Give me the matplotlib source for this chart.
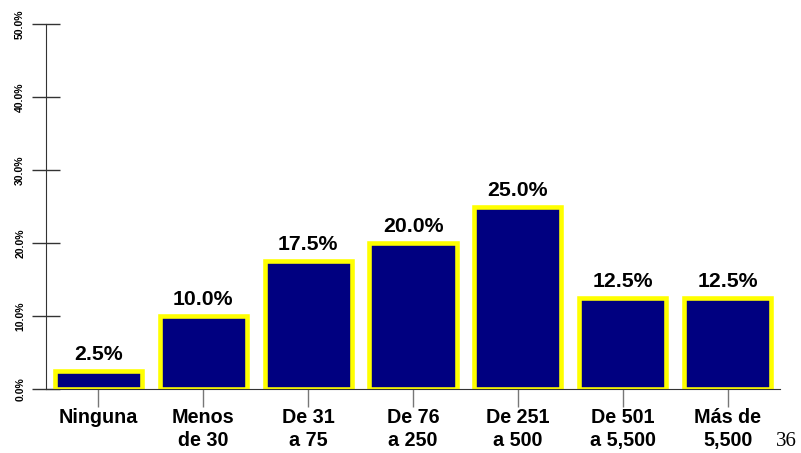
import numpy as np
from matplotlib import pyplot as plt

# categories and values (percent)
categories = ["Ninguna", "Menos\nde 30", "De 31\na 75", "De 76\na 250",
              "De 251\na 500", "De 501\na 5,500", "Más de\n5,500"]
values = [2.5, 10.0, 17.5, 20.0, 25.0, 12.5, 12.5]
y_ticks = [0, 10, 20, 30, 40, 50]
y_tick_labels = ["0.0%", "10.0%", "20.0%", "30.0%", "40.0%", "50.0%"]
page_number = "36"

plt.rcParams["font.family"] = ["Liberation Sans", "DejaVu Sans"]

fig = plt.figure(figsize=(8.01, 4.53), dpi=100)
ax = fig.add_axes([46 / 801, 1 - 389 / 453, (780 - 46) / 801, (389 - 24) / 453])

x = np.arange(len(categories))
bars = ax.bar(x, values, width=0.83, color="#000080", edgecolor="#ffff00",
              linewidth=3.3, zorder=2)

# value labels above bars
for xi, v in zip(x, values):
    ax.annotate(f"{v:.1f}%", (xi, v), xytext=(0, 5), textcoords="offset points",
                ha="center", va="bottom", fontsize=15.3, fontweight="bold")

ax.set_xlim(-0.5, 6.5)
ax.set_ylim(0, 50)
ax.set_xticks(x)
ax.set_xticklabels(categories, fontsize=14.2, fontweight="bold", linespacing=1.25)
ax.set_yticks(y_ticks)
ax.set_yticklabels(y_tick_labels, fontsize=7.5, fontweight="bold", rotation=90,
                   va="center")

ax.tick_params(axis="x", direction="inout", length=26, color="#777777", width=1, pad=1)
ax.tick_params(axis="y", direction="inout", length=20, color="#333333", width=1, pad=5)

for s in ["top", "right"]:
    ax.spines[s].set_visible(False)
ax.spines["left"].set_color("#333333")
ax.spines["bottom"].set_color("#333333")

fig.text(786 / 801, 1 - 441 / 453, page_number, fontsize=15,
         family="Liberation Serif", ha="center", va="center")

fig.savefig("out.png", dpi=100)
